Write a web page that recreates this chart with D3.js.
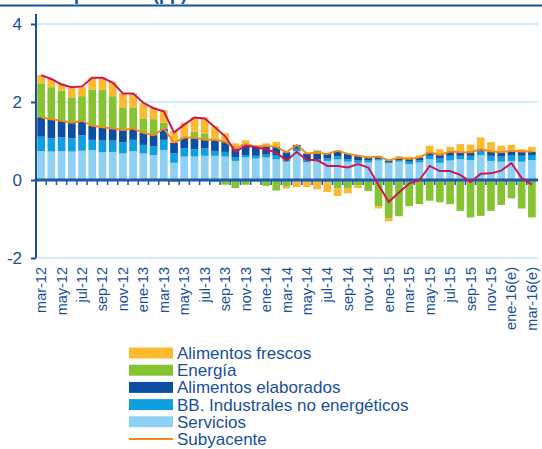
<!DOCTYPE html>
<html><head><meta charset="utf-8">
<script src="https://cdn.jsdelivr.net/npm/d3@7"></script>
<style>
html,body{margin:0;padding:0;background:#fff;}
svg{display:block;}
</style></head>
<body>
<svg id="chart" width="542" height="449"></svg>
<script>
const categories = ["mar-12","abr-12","may-12","jun-12","jul-12","ago-12","sep-12","oct-12","nov-12","dic-12",
"ene-13","feb-13","mar-13","abr-13","may-13","jun-13","jul-13","ago-13","sep-13","oct-13","nov-13","dic-13",
"ene-14","feb-14","mar-14","abr-14","may-14","jun-14","jul-14","ago-14","sep-14","oct-14","nov-14","dic-14",
"ene-15","feb-15","mar-15","abr-15","may-15","jun-15","jul-15","ago-15","sep-15","oct-15","nov-15","dic-15",
"ene-16(e)","feb-16(e)","mar-16(e)"];
const tickLabels = ["mar-12","may-12","jul-12","sep-12","nov-12","ene-13","mar-13","may-13","jul-13","sep-13","nov-13",
"ene-14","mar-14","may-14","jul-14","sep-14","nov-14","ene-15","mar-15","may-15","jul-15","sep-15","nov-15","ene-16(e)","mar-16(e)"];
const yTicks = [-2, 0, 2, 4];

const servicios = [.74,.73,.74,.73,.75,.77,.71,.72,.68,.74,
 .68,.64,.77,.44,.60,.60,.62,.62,.60,.49,.58,.55,
 .58,.53,.47,.74,.46,.47,.49,.53,.47,.44,.45,.50,
 .43,.47,.41,.45,.53,.44,.50,.53,.51,.64,.49,.47,
 .49,.47,.51];
const bbIndustriales = [.37,.34,.35,.34,.40,.26,.30,.29,.29,.29,
 .22,.23,.26,.24,.21,.19,.19,.12,.12,.10,.06,.07,
 .07,.11,.06,.06,.06,.06,.06,.08,.07,.06,.05,.03,
 .02,.03,.06,.05,.09,.11,.12,.09,.11,.09,.13,.13,
 .15,.15,.13];
const alimElaborados = [.50,.49,.43,.40,.37,.36,.34,.31,.31,.29,
 .31,.28,.29,.28,.28,.28,.23,.29,.26,.22,.28,.23,
 .23,.21,.18,.10,.16,.17,.12,.14,.13,.12,.08,.07,
 .05,.07,.07,.08,.09,.09,.11,.09,.09,.06,.11,.11,
 .11,.11,.09];
const energia = [.87,.82,.77,.65,.63,.93,.96,.83,.58,.54,
 .37,.41,.15,-.05,-.03,.17,.14,-.05,-.12,-.21,-.12,-.05,
 -.15,-.27,-.17,-.03,.01,.06,-.06,-.21,-.21,-.14,-.28,-.67,
 -.98,-.93,-.67,-.62,-.53,-.57,-.62,-.79,-.96,-.92,-.79,-.64,
 -.47,-.73,-.96];
const alimFrescos = [.21,.21,.19,.25,.24,.31,.32,.37,.36,.36,
 .39,.30,.32,.30,.38,.37,.42,.35,.22,.13,.10,.04,
 .06,.13,-.05,-.15,-.18,-.24,-.25,-.20,-.13,-.07,.02,-.06,
 -.08,.04,.06,.05,.17,.15,.12,.21,.20,.30,.24,.17,
 .15,.06,.12];
const subyacente = [1.61,1.56,1.52,1.47,1.52,1.39,1.35,1.32,1.28,1.32,
 1.21,1.15,1.32,0.96,1.09,1.09,1.03,1.03,0.98,0.81,0.92,0.85,
 0.88,0.85,0.71,0.90,0.68,0.70,0.67,0.75,0.67,0.62,0.58,0.60,
 0.50,0.57,0.54,0.58,0.71,0.64,0.73,0.71,0.71,0.79,0.73,0.71,
 0.75,0.73,0.73];
const ipcGeneral = [2.69,2.59,2.45,2.38,2.40,2.62,2.62,2.50,2.22,2.22,
 1.98,1.84,1.76,1.22,1.42,1.60,1.58,1.35,1.12,0.72,0.88,0.84,
 0.79,0.70,0.50,0.72,0.51,0.51,0.36,0.36,0.32,0.41,0.32,-0.13,
 -0.56,-0.32,-0.09,0.00,0.36,0.23,0.23,0.13,-0.05,0.16,0.17,0.24,
 0.43,0.05,-0.12];

const seriesNames = ["Servicios","BB. Industrales no energéticos","Alimentos elaborados","Energía","Alimentos frescos"];
const seriesColors = ["#8fd1f2","#109ee0","#0c4ea2","#86c332","#fdb92f"];
const legendNames = ["Alimentos frescos","Energía","Alimentos elaborados","BB. Industrales no energéticos","Servicios","Subyacente"];
const legendColors = ["#fdb92f","#86c332","#0c4ea2","#109ee0","#8fd1f2","#f28a1d"];
const titleText = "Descomposición (pp)";

const dark = "#1a4f9c";
const svg = d3.select("#chart");

const rows = categories.map((c,i)=>({cat:c, s0:servicios[i], s1:bbIndustriales[i], s2:alimElaborados[i], s3:energia[i], s4:alimFrescos[i]}));
const keys = ["s0","s1","s2","s3","s4"];
const stack = d3.stack().keys(keys).offset(d3.stackOffsetDiverging)(rows);

const x = d3.scaleBand().domain(categories).range([36, 537]).paddingInner(0.25).paddingOuter(0.125);
const y = d3.scaleLinear().domain([-2, 4]).range([258, 24]);

// title (cut at top, as in the reference) and top rule
svg.append("text").attr("x", 4).attr("y", 0).attr("font-family","Liberation Sans, Arial, sans-serif")
  .attr("font-size", 18).attr("font-weight","bold").attr("fill", dark).text(titleText);
svg.append("line").attr("x1",0).attr("x2",542).attr("y1",5.5).attr("y2",5.5).attr("stroke","#1553a3").attr("stroke-width",2.2);

// gridlines
svg.append("g").selectAll("line").data(yTicks.filter(d=>d!==0)).join("line")
  .attr("x1", 36).attr("x2", 538).attr("y1", d=>y(d)).attr("y2", d=>y(d))
  .attr("stroke", "#d3ecf8").attr("stroke-width", 2);

// bars
svg.append("g").selectAll("g").data(stack).join("g")
  .attr("fill", (d,i)=>seriesColors[i])
  .selectAll("rect").data(d=>d).join("rect")
  .attr("x", d=>x(d.data.cat)).attr("width", x.bandwidth())
  .attr("y", d=>y(Math.max(d[0],d[1])))
  .attr("height", d=>Math.abs(y(d[0])-y(d[1])));

// zero axis with ticks
const zeroY = y(0);
svg.append("line").attr("x1",36).attr("x2",538).attr("y1",zeroY).attr("y2",zeroY).attr("stroke","#1d5aa8").attr("stroke-width",3);
const step = x.step();
svg.append("g").selectAll("line").data(categories.slice(1)).join("line")
  .attr("x1", d=>x(d) - (step - x.bandwidth())/2).attr("x2", d=>x(d) - (step - x.bandwidth())/2)
  .attr("y1", zeroY).attr("y2", zeroY+5).attr("stroke","#1d5aa8").attr("stroke-width",1.5);

// lines
const lineGen = d3.line().x((d,i)=>x(categories[i]) + x.bandwidth()/2).y(d=>y(d));
svg.append("path").datum(subyacente).attr("d", lineGen).attr("fill","none").attr("stroke","#f28a1d").attr("stroke-width",2);
svg.append("path").datum(ipcGeneral).attr("d", lineGen).attr("fill","none").attr("stroke","#c9175a").attr("stroke-width",2);

// y axis
const yAxis = svg.append("g").attr("transform","translate(36,0)")
  .call(d3.axisLeft(y).tickValues(yTicks).tickSize(5).tickPadding(9).tickFormat(d=>String(d)));
yAxis.select(".domain").attr("d", `M0,14V${y(-2)}`).attr("stroke", dark).attr("stroke-width", 2);
yAxis.selectAll(".tick line").attr("stroke", dark).attr("stroke-width", 2);
yAxis.selectAll(".tick text").attr("fill", dark).attr("font-size", 17).attr("font-family","Liberation Sans, Arial, sans-serif");

// x labels
svg.append("g").selectAll("text").data(tickLabels).join("text")
  .attr("transform", d=>`translate(${x(d)+x.bandwidth()/2+5},267) rotate(-90)`)
  .attr("text-anchor","end").attr("font-size",14.5).attr("font-family","Liberation Sans, Arial, sans-serif")
  .attr("fill", dark).text(d=>d);

// legend
const lg = svg.append("g");
legendNames.forEach((n,i)=>{
  const cy = 353 + i*17.2;
  if (i < 5) {
    lg.append("rect").attr("x",129).attr("y",cy-5.5).attr("width",44).attr("height",11).attr("fill",legendColors[i]);
  } else {
    lg.append("line").attr("x1",129).attr("x2",173).attr("y1",cy).attr("y2",cy).attr("stroke",legendColors[i]).attr("stroke-width",2);
  }
  lg.append("text").attr("x",177).attr("y",cy+6).attr("font-size",17).attr("font-family","Liberation Sans, Arial, sans-serif")
    .attr("fill", dark).text(n);
});
</script>
</body></html>
